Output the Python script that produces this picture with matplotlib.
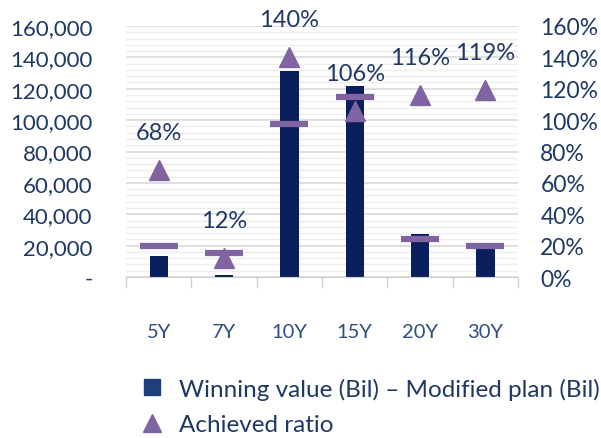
import matplotlib
matplotlib.use("Agg")
import matplotlib.pyplot as plt
from matplotlib.lines import Line2D
from matplotlib.ticker import FuncFormatter, MultipleLocator
import numpy as np

# Data
tenors = ["5Y", "7Y", "10Y", "15Y", "20Y", "30Y"]
winning_value = [13200, 1500, 131500, 122000, 27500, 17800]
modified_plan = [19900, 15300, 97500, 115000, 24200, 20000]
achieved_ratio = [0.68, 0.12, 1.40, 1.06, 1.16, 1.19]
ratio_labels = ["68%", "12%", "140%", "106%", "116%", "119%"]

NAVY = "#0b1f5c"
PURPLE = "#8064a2"
TEXT = "#1f3864"

plt.rcParams["font.family"] = ["Lato", "DejaVu Sans"]

fig = plt.figure(figsize=(6.01, 4.39), dpi=100)
ax = fig.add_axes([0.2097, 0.3667, 0.6523, 0.5718])
ax2 = ax.twinx()

x = np.arange(len(tenors))

# grid
ax.set_ylim(0, 160000)
ax.yaxis.set_major_locator(MultipleLocator(20000))
ax.yaxis.set_minor_locator(MultipleLocator(4000))
ax.grid(axis="y", which="major", color="#d9d9d9", linewidth=1.2)
ax.grid(axis="y", which="minor", color="#eeeeee", linewidth=1.0)
ax.set_axisbelow(True)

ax.bar(x, winning_value, width=0.28, color=NAVY, zorder=2)
ax.plot(x, modified_plan, linestyle="none", marker="_", markersize=28,
        markeredgewidth=4.5, color=PURPLE, zorder=3)

ax2.set_ylim(0, 1.6)
ax2.yaxis.set_major_locator(MultipleLocator(0.2))
ax2.plot(x, achieved_ratio, linestyle="none", marker="^", markersize=15,
         color=PURPLE, zorder=4)
for xi, yi, lab in zip(x, achieved_ratio, ratio_labels):
    ax2.annotate(lab, (xi, yi), xytext=(0, 27), textcoords="offset points",
                 ha="center", va="center", fontsize=17, color=TEXT)

ax.set_xlim(-0.5, len(tenors) - 0.5)
ax.set_xticks(x)
ax.set_xticklabels(tenors, fontsize=14.5, color="#2f4f80")
ax.set_xticks(np.arange(-0.5, len(tenors)), minor=True)
ax.tick_params(axis="x", which="major", length=0, pad=33)
ax.tick_params(axis="x", which="minor", length=8, color="#d0d0d0", width=1)

ax.yaxis.set_major_formatter(FuncFormatter(lambda v, p: "-" if v == 0 else f"{v:,.0f}"))
ax.tick_params(axis="y", which="both", length=0, pad=24, labelsize=16, labelcolor=TEXT)
ax2.yaxis.set_major_formatter(FuncFormatter(lambda v, p: f"{v * 100:.0f}%"))
ax2.tick_params(axis="y", length=0, pad=16, labelsize=16.5, labelcolor=TEXT)

for a in (ax, ax2):
    for s in a.spines.values():
        s.set_visible(False)
ax.spines["bottom"].set_visible(True)
ax.spines["bottom"].set_color("#d0d0d0")

handles = [
    Line2D([], [], linestyle="none", marker="s", markersize=11, color="#1f3f7a"),
    Line2D([], [], linestyle="none", marker="^", markersize=13, color=PURPLE),
]
labels = ["Winning value (Bil) \u2013 Modified plan (Bil)", "Achieved ratio"]
leg = fig.legend(handles, labels, loc="upper left", bbox_to_anchor=(0.217, 0.16),
                 frameon=False, fontsize=17.5, handletextpad=0.6, labelspacing=0.6,
                 handlelength=1.0, borderaxespad=0)
for t in leg.get_texts():
    t.set_color(TEXT)

fig.savefig("out.png", dpi=100)
